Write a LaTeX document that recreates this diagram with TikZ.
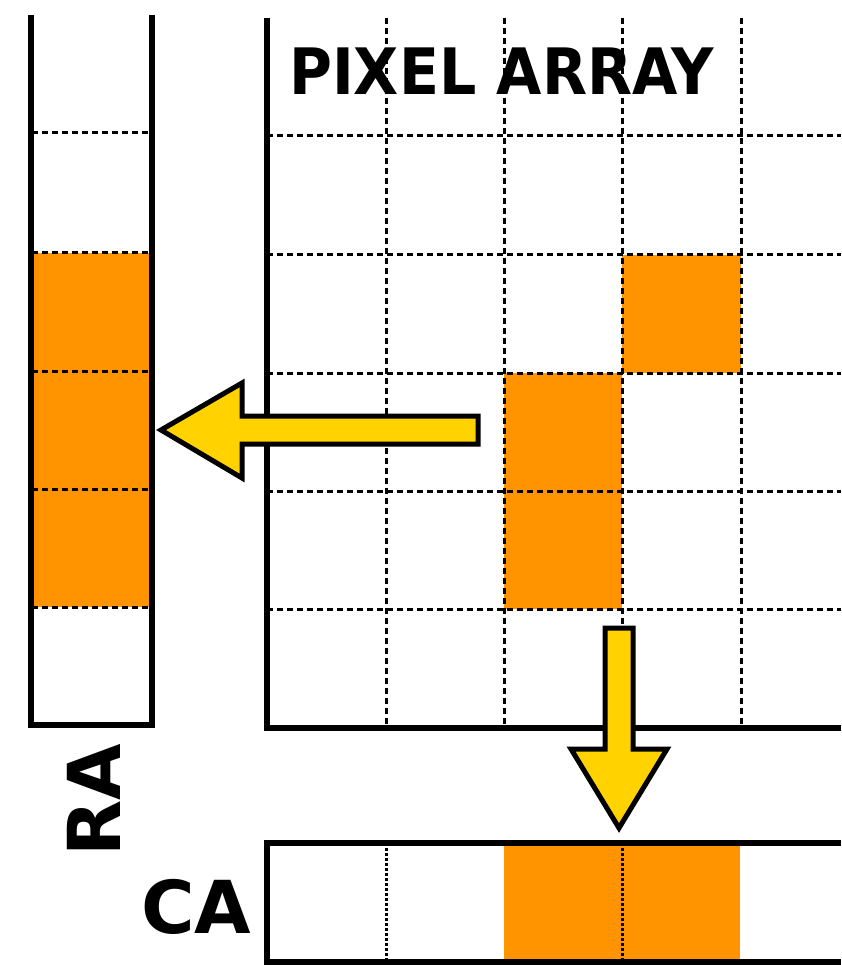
\documentclass[tikz,border=0pt]{standalone}
\usepackage{fontspec}
\setmainfont{DejaVu Sans}
\definecolor{cellorange}{RGB}{255,148,0}
\definecolor{arrowyellow}{RGB}{255,210,0}
\begin{document}
\begin{tikzpicture}[x=1pt,y=-1pt,
  solid line/.style={line width=5.5pt},
  grid dash/.style={line width=3pt,dash pattern=on 6pt off 4pt},
  grid dot/.style={line width=3pt,dash pattern=on 2.5pt off 2.5pt},
  cellfill/.style={fill=cellorange},
  bigarrow/.style={fill=arrowyellow,draw=black,line width=5pt,line join=miter},
  label/.style={font=\bfseries,inner sep=0pt}]
\useasboundingbox (0,0) rectangle (841,965);
% orange fills
\fill[cellfill] (32,253) rectangle (151,607);
\fill[cellfill] (622,255) rectangle (741,373);
\fill[cellfill] (504,373) rectangle (622,609);
\fill[cellfill] (504,843) rectangle (740,963);
% RA dashed lines
\foreach \y in {133,253,371,489,607} \draw[grid dash] (32,\y) -- (151,\y);
% pixel array grid
\foreach \x in {386,504,622,741} \draw[grid dash] (\x,18) -- (\x,728);
\foreach \y in {136,255,373,491,609} \draw[grid dash] (267,\y) -- (841,\y);
% CA dotted
\foreach \x in {386,622} \draw[grid dot] (\x,843) -- (\x,963);
% solid outlines
\draw[solid line] (31,15) -- (31,725) -- (152,725) -- (152,15);
\draw[solid line] (267,18) -- (267,728) -- (841,728);
\draw[solid line] (841,843) -- (267,843) -- (267,962) -- (841,962);
% arrows
\coordinate (lefttip) at (161,430);
\coordinate (downtip) at (619,828);
\draw[bigarrow] (478,416) -- (242,416) -- (242,383) -- (lefttip) -- (242,478) -- (242,444) -- (478,444) -- cycle;
\draw[bigarrow] (605,628) -- (605,749) -- (571,749) -- (downtip) -- (667,749) -- (633,749) -- (633,628) -- cycle;
% labels
\node[label,anchor=base west,xscale=0.915,font=\bfseries\fontsize{64}{64}\selectfont] (pa) at (289,95) {PIXEL ARRAY};
\node[label,anchor=base west,rotate=90,font=\bfseries\fontsize{73}{73}\selectfont] (ra) at (120,857) {RA};
\node[label,anchor=base west,font=\bfseries\fontsize{73}{73}\selectfont] (ca) at (141,933) {CA};
\end{tikzpicture}
\end{document}
